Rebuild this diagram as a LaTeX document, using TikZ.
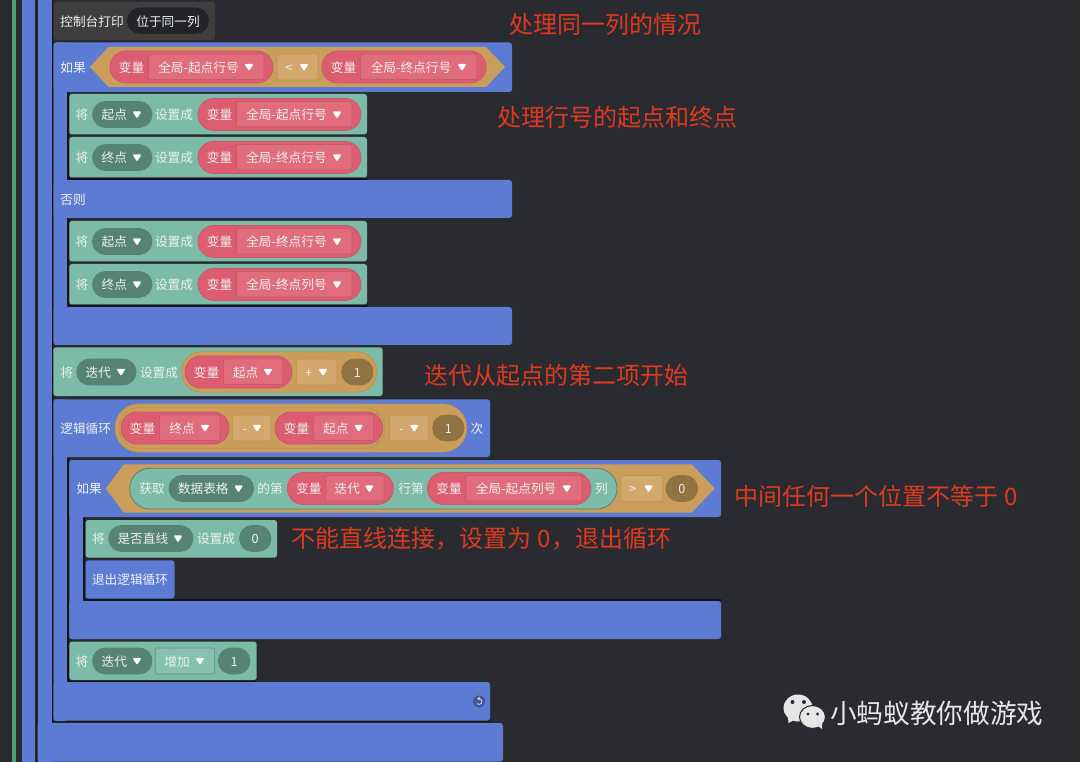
\documentclass[tikz,border=0pt]{standalone}
\usepackage{fontspec}
\setmainfont{Noto Sans CJK SC}
\definecolor{bg}{HTML}{2A2B30}
\definecolor{shade}{HTML}{141518}
\definecolor{bluek}{HTML}{5C7CD3}
\definecolor{greenk}{HTML}{7BBBA7}
\definecolor{greend}{HTML}{568373}
\definecolor{greenl}{HTML}{86C0AE}
\definecolor{greenline}{HTML}{4F9E78}
\definecolor{redk}{HTML}{DC5D70}
\definecolor{redl}{HTML}{E06C7C}
\definecolor{redb}{HTML}{C85A6D}
\definecolor{orak}{HTML}{CB9D5A}
\definecolor{oral}{HTML}{D3A86D}
\definecolor{orab}{HTML}{BC9255}
\definecolor{numk}{HTML}{8F7342}
\definecolor{grayk}{HTML}{3E3E3E}
\definecolor{grayd}{HTML}{232427}
\definecolor{annotcol}{HTML}{DD3A20}
\definecolor{txtcol}{HTML}{EDF1EE}
\definecolor{markcol}{HTML}{E6E6E6}
\newcounter{nn}
\tikzset{
  x=0.75pt,y=-0.75pt,
  lab/.style={inner sep=0pt,text=txtcol,font=\fontsize{9.5pt}{11pt}\selectfont,text height=8.8pt,text depth=0.7pt,anchor=center},
  annotext/.style={inner sep=0pt,text=annotcol,font=\fontsize{18pt}{20pt}\selectfont,text height=15.8pt,text depth=2.2pt,anchor=west},
  marktext/.style={inner sep=0pt,text=markcol,font=\fontsize{20pt}{22pt}\selectfont,text height=17.6pt,text depth=2.4pt,anchor=west},
  edge line/.style={draw=shade,line width=1.3pt,line join=round,line cap=round},
}
% label
\newcommand\lb[3]{\stepcounter{nn}\node[lab] (t\thenn) at (#1,#2) {#3};}
% block x0 y0 x1 y1 colour
\newcommand\blk[5]{\fill[#5,rounded corners=2pt] (#1,#2) rectangle (#3,#4);}
% white arrow
\newcommand\arw[2]{\fill[white,draw=white,line width=1.3pt,line join=round] (#1-3,#2-2.2) -- (#1+3,#2-2.2) -- (#1,#2+2.4) -- cycle;}
% pill x0 y0 x1 y1 fill draw
\newcommand\pil[6]{\pgfmathsetmacro\rr{((#4)-(#2))*0.375*0.99}\filldraw[fill=#5,draw=#6,line width=0.6pt,rounded corners=\rr pt] (#1,#2) rectangle (#3,#4);}
% variable pill x0 x1 yc label
\newcommand\vp[4]{\pil{#1}{#3-16}{#2}{#3+16}{redk}{redb}
  \filldraw[fill=redl,draw=redb,line width=0.6pt,rounded corners=1.5pt] (#1+38.5,#3-13) rectangle (#2-9,#3+12.5);
  \lb{#1+21.5}{#3}{变量}
  \pgfmathsetmacro\cc{(#1+#2+14)/2}\lb{\cc}{#3}{#4}\arw{#2-24}{#3}}
% dropdown pill x0 x1 yc label
\newcommand\dd[4]{\pil{#1}{#3-13}{#2}{#3+13}{greend}{greend}
  \pgfmathsetmacro\cc{(#1+#2)/2-8}\lb{\cc}{#3}{#4}\arw{#2-15}{#3}}
% operator box x0 x1 yc op
\newcommand\op[4]{\filldraw[fill=oral,draw=orab,line width=0.5pt,rounded corners=1.5pt] (#1,#3-13) rectangle (#2,#3+13);
  \lb{#1+12}{#3}{#4}\arw{#2-14}{#3}}
% number pill x0 x1 yc text fill
\newcommand\num[5]{\pil{#1}{#3-13}{#2}{#3+13}{#5}{#5}\pgfmathsetmacro\cc{(#1+#2)/2}\lb{\cc}{#3}{#4}}
% setting row y0 pillname var
\newcommand\setrow[3]{\blk{69.3}{#1}{367}{#1+40.5}{greenk}
  \lb{82}{#1+20.5}{将}\dd{92.5}{152}{#1+20.5}{#2}\lb{174}{#1+20.5}{设置成}\vp{198}{361}{#1+20.5}{#3}}
\newcommand\ann[3]{\stepcounter{nn}\node[annotext] (t\thenn) at (#1,#2) {#3};}
\begin{document}
\begin{tikzpicture}
\useasboundingbox (0,0) rectangle (1080,762);
\fill[bg] (0,0) rectangle (1080,762);
% left rails
\fill[greenline] (12.3,0) rectangle (15.7,762);
\fill[bluek] (22,0) rectangle (35,762);
\fill[bluek] (37.7,0) rectangle (51.5,762);
\draw[edge line] (36.4,0) -- (36.4,762);
\draw[edge line] (52.6,0) -- (52.6,721.5) -- (490,721.5);
% print block
\blk{53.7}{2}{215}{40}{grayk}
\lb{92}{21}{控制台打印}
\pil{127.5}{8}{208.5}{33.5}{grayd}{grayd}
\lb{168}{21}{位于同一列}
% if block 1
\blk{53.7}{42.5}{512}{92}{bluek}
\blk{53.7}{42.5}{67}{345}{bluek}
\blk{53.7}{180}{512}{218}{bluek}
\blk{53.7}{307}{512}{345}{bluek}
\draw[edge line] (68,93) -- (68,178.8) -- (367,178.8);
\draw[edge line] (68,219) -- (68,305.8) -- (367,305.8);
\lb{73}{67}{如果}
\fill[orak] (90,67) -- (108.5,47) -- (486,47) -- (505,67) -- (486,87) -- (108.5,87) -- cycle;
\vp{110}{273}{67}{全局-起点行号}
\op{277}{318}{67}{<}
\vp{322}{486}{67}{全局-终点行号}
\setrow{94}{起点}{全局-起点行号}
\setrow{137}{终点}{全局-终点行号}
\lb{73}{199}{否则}
\setrow{221}{起点}{全局-终点行号}
\setrow{264}{终点}{全局-终点列号}
% iter set
\blk{53.3}{347.3}{382.7}{396}{greenk}
\lb{66.7}{372}{将}
\dd{76.7}{136}{372}{迭代}
\lb{159}{372}{设置成}
\pil{181.7}{351.7}{376.7}{392.3}{orak}{orab}
\vp{185}{292}{372}{起点}
\op{296.7}{337}{372}{+}
\num{341.7}{373}{372}{1}{numk}
% loop
\blk{53.5}{399.3}{490}{457}{bluek}
\blk{53.5}{399.3}{67}{721}{bluek}
\blk{53.5}{682}{490}{720.5}{bluek}
\lb{85.7}{428}{逻辑循环}
\pil{115}{404}{466.7}{452}{orak}{orab}
\pil{119}{407.7}{385}{448.3}{orak}{orab}
\vp{121}{229}{428}{终点}
\op{232.7}{271}{428}{-}
\vp{275}{382.7}{428}{起点}
\op{389.3}{428.3}{428}{-}
\num{432.7}{464}{428}{1}{numk}
\lb{477}{428}{次}
% inner if
\blk{69.4}{460}{721}{517}{bluek}
\blk{69.4}{460}{83}{639}{bluek}
\blk{69.4}{601}{721}{639}{bluek}
\draw[edge line] (68,458.5) -- (68,681);
\draw[edge line] (68,681) -- (256,681);
\draw[edge line] (84,518) -- (84,600) -- (721,600);
\lb{89}{488.5}{如果}
\fill[orak] (105.7,488.5) -- (124,464.3) -- (691.6,464.3) -- (714.7,488.5) -- (691.6,512.7) -- (124,512.7) -- cycle;
\pil{129.7}{468.3}{617}{509}{greenk}{greend}
\lb{152}{488.5}{获取}
\dd{169}{253.6}{488.5}{数据表格}
\lb{270}{488.5}{的第}
\vp{287.4}{393.3}{488.5}{迭代}
\lb{411}{488.5}{行第}
\vp{427.5}{590.8}{488.5}{全局-起点列号}
\lb{601.5}{488.5}{列}
\op{620.7}{662.6}{488.5}{>}
\num{666}{697.6}{488.5}{0}{numk}
% set straight
\blk{85.6}{520}{277}{557.7}{greenk}
\lb{98.5}{538.5}{将}
\dd{108.7}{193}{538.5}{是否直线}
\lb{216}{538.5}{设置成}
\num{239.5}{271}{538.5}{0}{greend}
\blk{85.6}{560.3}{174.5}{598.5}{bluek}
\lb{130}{579.5}{退出逻辑循环}
% increment
\blk{69.3}{641.7}{256.7}{680}{greenk}
\lb{82}{661}{将}
\dd{92.5}{152}{661}{迭代}
\filldraw[fill=greenl,draw=greend!70!greenk,line width=0.5pt,rounded corners=1.5pt] (155.3,648) rectangle (214.7,674);
\lb{177}{661}{增加}\arw{200}{661}
\num{218.3}{250}{661}{1}{greend}
% refresh icon
\fill[bluek!70!black] (479,701.5) circle[radius=6];
\draw[bluek!35!white,line width=0.7pt] (476.95,703.55) arc[start angle=135,end angle=-90,radius=2.9];
\fill[bluek!35!white] (477,698.6) -- (479.5,696.8) -- (479.5,700.4) -- cycle;
% outer bottom
\blk{37.7}{723}{503}{761.5}{bluek}
% annotations
\ann{509}{24}{处理同一列的情况}
\ann{497}{117}{处理行号的起点和终点}
\ann{424}{375}{迭代从起点的第二项开始}
\ann{734}{496}{中间任何一个位置不等于\hspace{5pt}0}
\ann{291}{538}{不能直线连接，设置为\hspace{5pt}0，退出循环}
% watermark
\fill[markcol] (798,708) ellipse[x radius=14.5,y radius=13.5];
\fill[markcol] (788,717) -- (788.5,723) -- (795,719.5) -- cycle;
\filldraw[fill=markcol,draw=bg,line width=0.8pt] (812.5,717) ellipse[x radius=13,y radius=11.5];
\fill[markcol] (818,726) -- (822,729) -- (822,723) -- cycle;
\fill[bg] (792.5,702) circle[radius=2] (804,702) circle[radius=2] (808,714) circle[radius=1.7] (817.5,714) circle[radius=1.7];
\stepcounter{nn}\node[marktext] (t\thenn) at (830,713) {小蚂蚁教你做游戏};
\end{tikzpicture}
\end{document}
